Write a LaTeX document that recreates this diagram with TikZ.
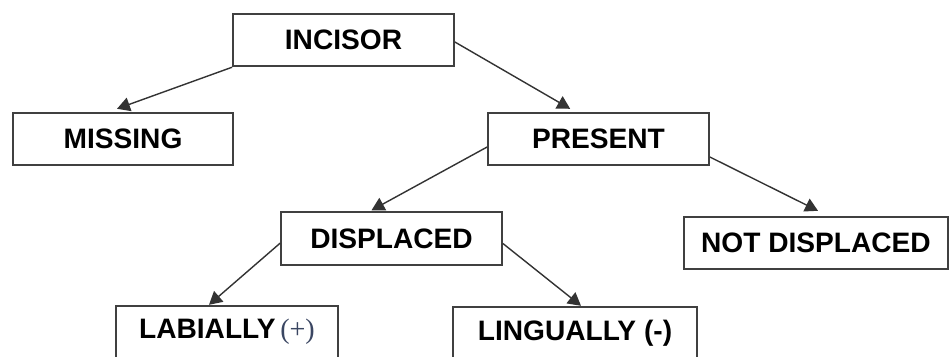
\documentclass[tikz,border=0pt]{standalone}
\usepackage{fontspec}
\setmainfont{Liberation Sans}
\newfontfamily\pmfont{Liberation Serif}
\usepackage{tikz}
\usetikzlibrary{arrows.meta}
\definecolor{boxline}{HTML}{404040}
\definecolor{signcol}{HTML}{3A4662}

\begin{document}
\begin{tikzpicture}[x=0.03cm,y=-0.03cm,
  box/.style={draw=boxline,line width=1.5pt,fill=white,minimum height=1.58cm,
    inner sep=0pt,font=\fontsize{24}{28}\selectfont\bfseries},
  arr/.style={draw=black!80,line width=1.2pt,-{Triangle[length=11pt,width=12pt]}}]
\clip (0,0) rectangle (950,356);

\node[box,minimum width=6.63cm] (incisor) at (343.5,40) {INCISOR};
\node[box,minimum width=6.6cm] (missing) at (123,139) {MISSING};
\node[box,minimum width=6.63cm] (present) at (598.5,139) {PRESENT};
\node[box,minimum width=6.63cm] (displaced) at (391.5,238.5) {DISPLACED};
\node[box,minimum width=7.92cm] (notdisp) at (816,243) {NOT DISPLACED};
\node[box,minimum width=6.66cm] (labial) at (227,332) {LABIALLY\,{\pmfont\mdseries\color{signcol}(+)}};
\node[box,minimum width=7.32cm] (lingual) at (575,333) {LINGUALLY (-)};

% arrows
\draw[arr] (incisor.south west) -- ([xshift=-0.18cm,yshift=0.09cm]missing.north);
\draw[arr] ([yshift=-0.06cm]incisor.east) -- ([xshift=-0.85cm,yshift=0.09cm]present.north);
\draw[arr] ([yshift=-0.24cm]present.west) -- ([xshift=-0.6cm,yshift=0.03cm]displaced.north);
\draw[arr] ([yshift=-0.54cm]present.east) -- ([xshift=0.06cm,yshift=0.15cm]notdisp.north);
\draw[arr] ([yshift=-0.14cm]displaced.west) -- ([xshift=-0.54cm]labial.north);
\draw[arr] ([yshift=-0.15cm]displaced.east) -- ([xshift=0.18cm]lingual.north);
\end{tikzpicture}
\end{document}
